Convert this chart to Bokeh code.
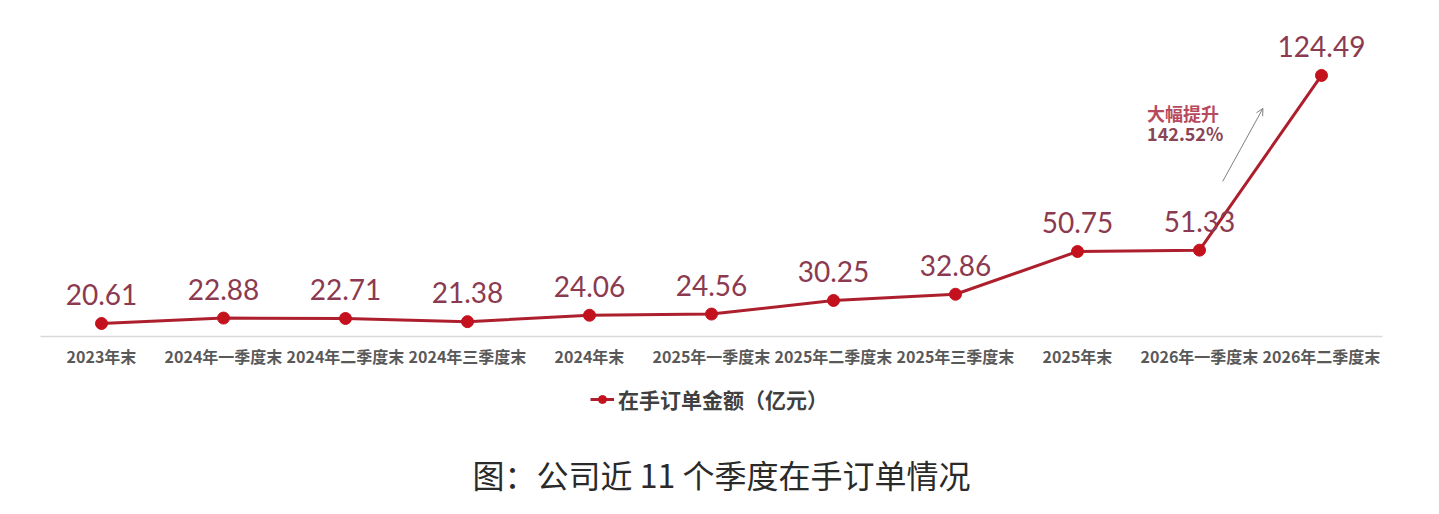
from bokeh.plotting import figure
from bokeh.models import (Range1d, FixedTicker, Legend, LegendItem, Arrow,
                          OpenHead, Label, ColumnDataSource)
from bokeh.layouts import column
from bokeh.embed import file_html
from bokeh.resources import INLINE
from bokeh.core.properties import value

categories = ["2023年末", "2024年一季度末", "2024年二季度末", "2024年三季度末", "2024年末",
              "2025年一季度末", "2025年二季度末", "2025年三季度末", "2025年末",
              "2026年一季度末", "2026年二季度末"]
orders = [20.61, 22.88, 22.71, 21.38, 24.06, 24.56, 30.25, 32.86, 50.75, 51.33, 124.49]
series_name = "在手订单金额（亿元）"
caption = "图：公司近 11 个季度在手订单情况"
note_lines = ["大幅提升", "142.52%"]

xs = list(range(len(categories)))
labels = [f"{v:.2f}" for v in orders]
src = ColumnDataSource(dict(x=xs, y=orders, label=labels))

LINE = "#AE1F2E"
MARK = "#C3121E"
LABEL = "#8B3A50"

p = figure(frame_width=1342, frame_height=316, output_backend="svg", toolbar_location=None,
           x_range=Range1d(-0.5, len(categories) - 0.5), y_range=Range1d(15.16, 147.5),
           min_border_left=40, min_border_right=41, min_border_top=20, min_border_bottom=37)
p.outline_line_color = None
p.xgrid.visible = False
p.ygrid.visible = False
p.yaxis.visible = False

ax = p.xaxis[0]
ax.ticker = FixedTicker(ticks=xs)
ax.major_label_overrides = {i: c for i, c in enumerate(categories)}
ax.axis_line_color = "#D9D9D9"
ax.axis_line_width = 1.5
ax.major_tick_line_color = None
ax.minor_tick_line_color = None
ax.major_label_standoff = 1
ax.major_label_text_font = "Noto Sans CJK SC"
ax.major_label_text_font_size = "16px"
ax.major_label_text_font_style = "bold"
ax.major_label_text_color = "#595959"

p.line("x", "y", source=src, line_color=LINE, line_width=3)
p.scatter("x", "y", source=src, size=12, fill_color=MARK, line_color=MARK)

p.text("x", "y", text="label", source=src, text_align="center", text_baseline="alphabetic",
       y_offset=-29, text_font=value("Lato"), text_font_size="28px", text_color=LABEL)

# annotation
p.add_layout(Arrow(end=OpenHead(size=7, line_color="#808080", line_width=1),
                   x_start=9.19, y_start=80.1, x_end=9.52, y_end=110.7,
                   line_color="#808080", line_width=1))
for line_text, yv, col in zip(note_lines, [108.6, 100.2], ["#B84A5E", "#8A4555"]):
    p.add_layout(Label(x=8.57, y=yv, text=line_text, text_align="left", text_baseline="middle",
                       text_font="Noto Sans CJK SC", text_font_size="18px",
                       text_font_style="bold", text_color=col))

# lower panel: legend + caption
p2 = figure(frame_width=1342, frame_height=125, output_backend="svg", toolbar_location=None,
            x_range=Range1d(0, 1), y_range=Range1d(0, 1),
            min_border_left=40, min_border_right=41, min_border_top=0, min_border_bottom=0)
p2.outline_line_color = None
p2.axis.visible = False
p2.grid.visible = False
# legend proxies (data lies outside this panel's ranges, so only the legend glyph shows)
ln2 = p2.line("x", "y", source=src, line_color=LINE, line_width=3)
mk2 = p2.scatter("x", "y", source=src, size=11, fill_color=MARK, line_color=MARK)

legend = Legend(items=[LegendItem(label=series_name, renderers=[ln2, mk2])],
                location=(550, 84), orientation="horizontal",
                label_text_font="Noto Sans CJK SC", label_text_font_size="21px",
                label_text_font_style="bold", label_text_color="#404040",
                glyph_width=24, border_line_color=None, background_fill_alpha=0,
                margin=0, padding=4, label_standoff=4)
p2.add_layout(legend, "center")

p2.add_layout(Label(x=681, y=25, x_units="screen", y_units="screen", text=caption,
                    text_align="center", text_baseline="middle", text_font="Noto Sans CJK SC",
                    text_font_size="32px", text_color="#2A2A2A"))

layout = column(p, p2, spacing=0)
open("out.html", "w").write(file_html(layout, INLINE))
